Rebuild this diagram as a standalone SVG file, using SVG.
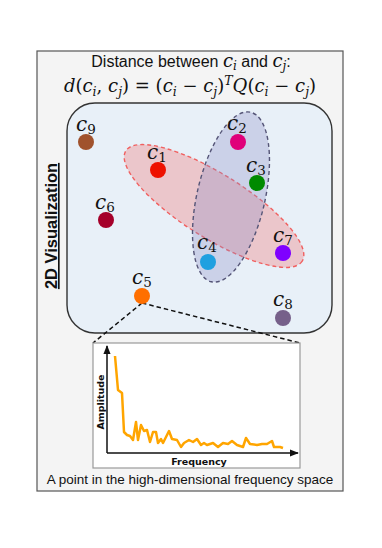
<svg xmlns="http://www.w3.org/2000/svg" width="382" height="548" viewBox="0 0 382 548">
<style>
.lbl{font-family:"DejaVu Serif","Liberation Serif",serif;font-style:italic;font-size:20px;fill:#111;text-anchor:middle}
.sub{font-size:13.5px;font-style:normal}
.sans{font-family:"Liberation Sans",Arial,sans-serif}
.math{font-family:"DejaVu Serif","Liberation Serif",serif}
.it{font-style:italic}
.axlbl{font-family:"DejaVu Sans","Liberation Sans",sans-serif;font-weight:bold;font-size:9.5px;fill:#111}
</style>
<defs>
<marker id="ah" viewBox="0 0 10 10" refX="9" refY="5" markerWidth="6" markerHeight="6" orient="auto"><path d="M0,1 L10,5 L0,9 z" fill="#111"/></marker>
</defs>
<rect x="0" y="0" width="382" height="548" fill="#ffffff"/>
<g id="frame">
<rect x="37" y="51" width="306" height="440" fill="#f4f4f4" stroke="#555" stroke-width="1.2"/>
</g>
<g id="title">
<text x="191" y="67" text-anchor="middle" font-size="16" fill="#111"><tspan class="sans">Distance between </tspan><tspan class="math it" font-size="18">c</tspan><tspan class="math it" font-size="12" dy="3">i</tspan><tspan class="sans" dy="-3"> and </tspan><tspan class="math it" font-size="18">c</tspan><tspan class="math it" font-size="12" dy="3">j</tspan><tspan class="sans" dy="-3">:</tspan></text>
<text x="190" y="92" text-anchor="middle" font-size="18" fill="#111" class="math"><tspan class="it">d</tspan>(<tspan class="it">c</tspan><tspan class="it" font-size="12.5" dy="3.5">i</tspan><tspan dy="-3.5">, </tspan><tspan class="it">c</tspan><tspan class="it" font-size="12.5" dy="3.5">j</tspan><tspan dy="-3.5">) = (</tspan><tspan class="it">c</tspan><tspan class="it" font-size="12.5" dy="3.5">i</tspan><tspan dy="-3.5"> − </tspan><tspan class="it">c</tspan><tspan class="it" font-size="12.5" dy="3.5">j</tspan><tspan dy="-3.5">)</tspan><tspan class="it" font-size="12.5" dy="-7">T</tspan><tspan class="it" dy="7">Q</tspan>(<tspan class="it">c</tspan><tspan class="it" font-size="12.5" dy="3.5">i</tspan><tspan dy="-3.5"> − </tspan><tspan class="it">c</tspan><tspan class="it" font-size="12.5" dy="3.5">j</tspan><tspan dy="-3.5">)</tspan></text>
</g>
<g id="side-label">
<text transform="translate(57,226) rotate(-90)" text-anchor="middle" font-family="Liberation Sans, Arial, sans-serif" font-weight="bold" font-size="16.5" fill="#111" text-decoration="underline">2D Visualization</text>
</g>
<g id="viz-panel">
<rect x="67" y="103" width="265" height="230" rx="28" ry="28" fill="#e8f0f8" stroke="#333" stroke-width="1.4"/>
</g>
<g id="cluster-red">
<ellipse cx="214" cy="206" rx="104" ry="32" transform="rotate(32 214 206)" fill="#f08080" fill-opacity="0.38" stroke="#f06060" stroke-width="1.4" stroke-dasharray="4 3"/>
</g>
<g id="cluster-blue">
<ellipse cx="231" cy="197" rx="34" ry="87" transform="rotate(13 231 197)" fill="#9090c8" fill-opacity="0.32" stroke="#555577" stroke-width="1.4" stroke-dasharray="4 3"/>
</g>
<g id="connectors">
<path d="M142,303 L93,343" fill="none" stroke="#111" stroke-width="1.5" stroke-dasharray="4.5 3"/>
<path d="M142,303 L300,343" fill="none" stroke="#111" stroke-width="1.5" stroke-dasharray="4.5 3"/>
</g>
<g id="c9"><circle cx="86" cy="142" r="8" fill="#a0522d"/><text class="lbl" x="86" y="131">c<tspan class="sub" dy="3">9</tspan></text></g>
<g id="c1"><circle cx="158" cy="170" r="8" fill="#ee1100"/><text class="lbl" x="157" y="159">c<tspan class="sub" dy="3">1</tspan></text></g>
<g id="c6"><circle cx="106" cy="220" r="8" fill="#a5002a"/><text class="lbl" x="105" y="209">c<tspan class="sub" dy="3">6</tspan></text></g>
<g id="c2"><circle cx="238" cy="142" r="8" fill="#e0007a"/><text class="lbl" x="237" y="130">c<tspan class="sub" dy="3">2</tspan></text></g>
<g id="c3"><circle cx="257" cy="183" r="8" fill="#008a00"/><text class="lbl" x="256" y="172">c<tspan class="sub" dy="3">3</tspan></text></g>
<g id="c4"><circle cx="208" cy="262" r="8" fill="#1fa0e0"/><text class="lbl" x="207" y="249">c<tspan class="sub" dy="3">4</tspan></text></g>
<g id="c7"><circle cx="283" cy="253" r="8" fill="#7f00ff"/><text class="lbl" x="283" y="242">c<tspan class="sub" dy="3">7</tspan></text></g>
<g id="c5"><circle cx="142" cy="296" r="8" fill="#ff6f00"/><text class="lbl" x="142" y="284">c<tspan class="sub" dy="3">5</tspan></text></g>
<g id="c8"><circle cx="283" cy="318" r="8" fill="#76608a"/><text class="lbl" x="283" y="306">c<tspan class="sub" dy="3">8</tspan></text></g>
<g id="spectrum-chart">
<rect x="93" y="343" width="207" height="125" fill="#ffffff" stroke="#999" stroke-width="1.2"/>
<line x1="107" y1="453" x2="107" y2="346" stroke="#111" stroke-width="1.5" marker-end="url(#ah)"/>
<line x1="107" y1="453" x2="298" y2="453" stroke="#111" stroke-width="1.5" marker-end="url(#ah)"/>
<text class="axlbl" transform="translate(104,402) rotate(-90)" text-anchor="middle">Amplitude</text>
<text class="axlbl" x="199" y="465" text-anchor="middle">Frequency</text>
<polyline fill="none" stroke="#ffa500" stroke-width="2.5" stroke-linejoin="round" points="115,356 118,390 122,393 124,432 127,435 130,436 133,440 136,422 138,440 141,425 144,431 147,430 150,442 153,432 156,432 158,443 161,439 163,443 169,431 172,439 177,440 181,447 184,443 189,440 193,442 197,439 201,445 204,443 207,445 213,443 218,447 223,443 228,444 232,441 237,445 243,447 246,438 250,444 257,445 262,444 267,444 272,441 274,447 280,447 283,448"/>
</g>
<g id="caption">
<text x="190" y="484" text-anchor="middle" font-family="Liberation Sans, Arial, sans-serif" font-size="13.5" fill="#111">A point in the high-dimensional frequency space</text>
</g>
</svg>
